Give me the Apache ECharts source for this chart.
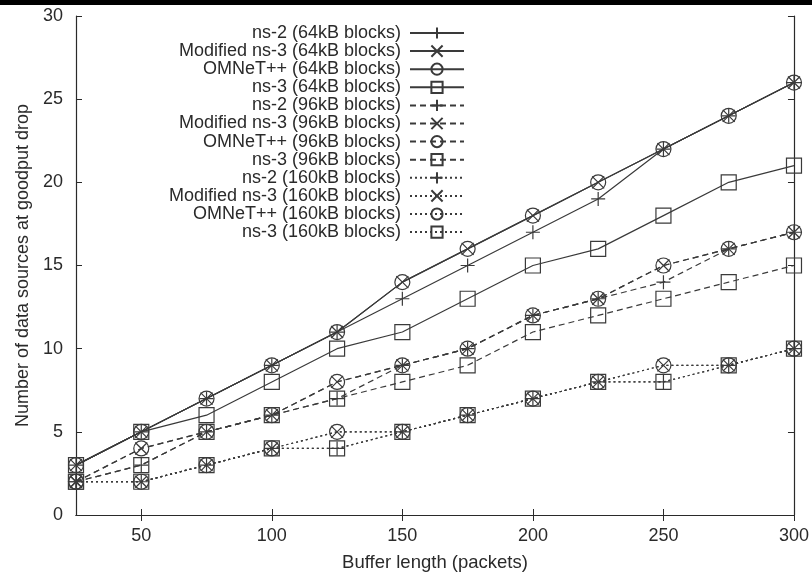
<!DOCTYPE html>
<html>
<head>
<meta charset="utf-8">
<script src="https://cdn.jsdelivr.net/npm/echarts@6/dist/echarts.min.js"></script>
<style>
  html, body { margin: 0; padding: 0; background: #fff; }
  #chart { width: 812px; height: 577px; }
</style>
</head>
<body>
<div id="chart"></div>
<script>
// buffer length (packets)
var buffer = [25, 50, 75, 100, 125, 150, 175, 200, 225, 250, 275, 300];
var xTicks = [50, 100, 150, 200, 250, 300];

// 64kB blocks
var ns2_64 = [3, 5, 7, 9, 11, 13, 15, 17, 19, 22, 24, 26];
var mod_64 = [3, 5, 7, 9, 11, 14, 16, 18, 20, 22, 24, 26];
var omnet_64 = [3, 5, 7, 9, 11, 14, 16, 18, 20, 22, 24, 26];
var ns3_64 = [3, 5, 6, 8, 10, 11, 13, 15, 16, 18, 20, 21];
// 96kB blocks
var ns2_96 = [2, 3, 5, 6, 7, 9, 10, 12, 13, 14, 16, 17];
var mod_96 = [2, 4, 5, 6, 8, 9, 10, 12, 13, 15, 16, 17];
var omnet_96 = [2, 4, 5, 6, 8, 9, 10, 12, 13, 15, 16, 17];
var ns3_96 = [2, 3, 5, 6, 7, 8, 9, 11, 12, 13, 14, 15];
// 160kB blocks
var ns2_160 = [2, 2, 3, 4, 4, 5, 6, 7, 8, 8, 9, 10];
var mod_160 = [2, 2, 3, 4, 5, 5, 6, 7, 8, 9, 9, 10];
var omnet_160 = [2, 2, 3, 4, 5, 5, 6, 7, 8, 9, 9, 10];
var ns3_160 = [2, 2, 3, 4, 4, 5, 6, 7, 8, 8, 9, 10];

var FONT = "Liberation Sans";
var INK = "#2a2a2a";

var marks = {
  plus: { symbol: "path://M0,5L10,5M5,0L5,10", size: 14 },
  cross: { symbol: "path://M0,0L10,10M10,0L0,10", size: 12 },
  circle: { symbol: "circle", size: 15 },
  square: { symbol: "rect", size: 15 }
};
var dashes = { solid: "solid", dashed: [6, 4], dotted: [2, 3] };

function mk(name, values, mark, dash) {
  var m = marks[mark];
  return {
    name: name,
    type: "line",
    data: buffer.map(function (x, i) { return [x, values[i]]; }),
    symbol: m.symbol,
    symbolSize: m.size,
    showSymbol: true,
    lineStyle: { color: "#3a3a3a", width: 1.2, type: dashes[dash] },
    itemStyle: { color: "rgba(0,0,0,0)", borderColor: "#3a3a3a", borderWidth: 1.2 },
    emphasis: { disabled: true },
    animation: false
  };
}

var series = [
  mk("ns-2 (64kB blocks)", ns2_64, "plus", "solid"),
  mk("Modified ns-3 (64kB blocks)", mod_64, "cross", "solid"),
  mk("OMNeT++ (64kB blocks)", omnet_64, "circle", "solid"),
  mk("ns-3 (64kB blocks)", ns3_64, "square", "solid"),
  mk("ns-2 (96kB blocks)", ns2_96, "plus", "dashed"),
  mk("Modified ns-3 (96kB blocks)", mod_96, "cross", "dashed"),
  mk("OMNeT++ (96kB blocks)", omnet_96, "circle", "dashed"),
  mk("ns-3 (96kB blocks)", ns3_96, "square", "dashed"),
  mk("ns-2 (160kB blocks)", ns2_160, "plus", "dotted"),
  mk("Modified ns-3 (160kB blocks)", mod_160, "cross", "dotted"),
  mk("OMNeT++ (160kB blocks)", omnet_160, "circle", "dotted"),
  mk("ns-3 (160kB blocks)", ns3_160, "square", "dotted")
];

var chart = echarts.init(document.getElementById("chart"));
chart.setOption({
  backgroundColor: "#fff",
  animation: false,
  graphic: [{
    type: "rect",
    shape: { x: 0, y: 0, width: 812, height: 5 },
    style: { fill: "#000" },
    silent: true
  }],
  grid: { left: 76, right: 17, top: 16, bottom: 60 },
  legend: {
    orient: "vertical",
    right: 342,
    top: 19,
    align: "right",
    itemWidth: 54,
    itemHeight: 14,
    itemGap: 0.1,
    selectedMode: false,
    textStyle: { fontFamily: FONT, fontSize: 18, lineHeight: 18, color: INK, width: 240, align: "right", padding: [0, 4, 0, 0] },
    data: series.map(function (s) { return s.name; })
  },
  xAxis: [{
    type: "value",
    min: 25,
    max: 300,
    name: "Buffer length (packets)",
    nameLocation: "middle",
    nameGap: 38,
    nameTextStyle: { fontFamily: FONT, fontSize: 18.5, color: INK },
    axisLine: { lineStyle: { color: INK, width: 1.2 } },
    axisTick: { inside: true, length: 6, customValues: xTicks, lineStyle: { color: INK } },
    axisLabel: { customValues: xTicks, fontFamily: FONT, fontSize: 18, color: INK, margin: 12 },
    splitLine: { show: false }
  }, {
    type: "value",
    position: "top",
    min: 25,
    max: 300,
    axisLine: { lineStyle: { color: INK, width: 1.2 } },
    axisTick: { inside: true, length: 6, customValues: xTicks, lineStyle: { color: INK } },
    axisLabel: { show: false },
    splitLine: { show: false }
  }],
  yAxis: [{
    type: "value",
    min: 0,
    max: 30,
    interval: 5,
    name: "Number of data sources at goodput drop",
    nameLocation: "middle",
    nameGap: 42,
    nameTextStyle: { fontFamily: FONT, fontSize: 18, color: INK },
    axisLine: { show: true, lineStyle: { color: INK, width: 1.2 } },
    axisTick: { show: true, inside: true, length: 6, lineStyle: { color: INK } },
    axisLabel: { fontFamily: FONT, fontSize: 18, color: INK, margin: 13 },
    splitLine: { show: false }
  }, {
    type: "value",
    position: "right",
    min: 0,
    max: 30,
    interval: 5,
    axisLine: { show: true, lineStyle: { color: INK, width: 1.2 } },
    axisTick: { show: true, inside: true, length: 6, lineStyle: { color: INK } },
    axisLabel: { show: false },
    splitLine: { show: false }
  }],
  series: series
});
</script>
</body>
</html>
